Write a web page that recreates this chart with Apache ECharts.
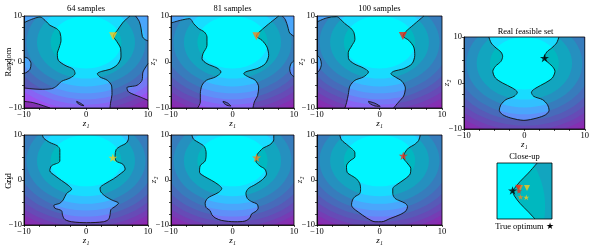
<!DOCTYPE html>
<html><head><meta charset="utf-8">
<script src="https://cdn.jsdelivr.net/npm/echarts@6/dist/echarts.min.js"></script>
<style>html,body{margin:0;padding:0;background:#fff}#c{width:592px;height:246px}</style>
</head><body><div id="c"></div>
<script>
// ---------------- data ----------------
const tickLabels = [-10, 0, 10];
const panelTitles = ['64 samples', '81 samples', '100 samples'];
const rowLabels = ['Random', 'Grid'];
const realTitle = 'Real feasible set';
const closeTitle = 'Close-up';
const legendText = 'True optimum \u2605';

// objective filled-contour bands (circles in data space), outermost first
const bandCenter = [0, 4.3];
const bandRadii = [17.7, 16.7, 15.7, 14.7, 13.6, 12.4, 11.1, 9.6, 7.9, 5.7];
const bandColors = ['#c232ec', '#b040ee', '#9c52f0', '#8864f3', '#7478f5', '#5f8ff8', '#4aa6fb', '#32c0ff', '#18dcff', '#00f6ff'];

// Random 64
const rand64A = [[-10,8.55],[-8.76,9.28],[-7.42,9.78],[-6.61,9.06],[-5.81,7.97],[-4.73,7.25],[-4.19,6.38],[-4.03,4.71],[-4.30,3.26],[-4.62,1.81],[-4.46,0.36],[-3.39,-0.72],[-2.04,-1.59],[-1.77,-2.54],[-2.58,-3.48],[-3.93,-4.20],[-4.73,-5.22],[-5.54,-5.80],[-7.42,-5.94],[-9.03,-5.80],[-10,-5.65]];
const rand64B = [[-10,1.09],[-9.30,0.72],[-8.87,-0.36],[-9.03,-1.59],[-9.68,-2.32],[-10,-2.39]];
const rand64C = [[-10,-8.55],[-8.49,-8.84],[-6.9,-9.5],[-5.8,-10]];
const rand64D = [[-1.51,-8.55],[-0.86,-8.98],[-0.32,-9.49],[-0.75,-9.42],[-1.40,-8.91],[-1.51,-8.55]];
const rand64E = [[7.10,10],[6.02,8.70],[5.05,6.88],[4.41,5.65],[4.95,4.49],[5.59,2.90],[5.64,1.09],[5.05,-0.58],[3.87,-1.59],[2.53,-2.03],[1.83,-2.54],[2.26,-3.26],[3.44,-3.98],[4.14,-5.22],[4.19,-7.10],[3.98,-8.70],[3.87,-10]];
const rand64F = [[8.0,10],[8.6,8.8],[8.9,7.2],[9.1,5.5],[9.5,4.9],[10,4.6]];
const rand64G = [[10,-0.36],[9.19,-2.17],[9.03,-3.99],[8.22,-5.07],[6.60,-5.58],[6.87,-6.52],[8.76,-7.61],[10,-8.33]];
const rand64Regions = [['A','-B'], ['C',[-10,-10]], ['D'], ['E',[10,-10],'-G','-F']];

// Random 81
const rand81A = [[-10,8.48],[-8.48,9.06],[-6.96,9.42],[-6.31,8.33],[-5.50,7.25],[-4.58,6.52],[-4.15,5.43],[-4.15,3.62],[-4.80,1.81],[-4.96,0.72],[-4.15,-0.36],[-2.52,-1.30],[-1.87,-2.17],[-2.79,-3.26],[-4.25,-3.98],[-4.96,-5.07],[-5.23,-6.88],[-5.23,-8.70],[-5.66,-10]];
const rand81D = [[-1.54,-8.55],[-0.79,-8.91],[-0.24,-9.57],[-0.89,-9.42],[-1.44,-8.91],[-1.54,-8.55]];
const rand81E = [[7.51,10],[5.61,7.97],[4.25,6.38],[3.88,5.65],[4.80,4.71],[5.61,3.26],[5.88,1.45],[5.34,-0.36],[3.98,-1.45],[2.36,-2.03],[1.82,-2.54],[2.63,-3.26],[3.71,-3.98],[4.25,-5.43],[4.09,-7.25],[3.55,-8.70],[3.33,-10]];
const rand81F = [[8.1,10],[8.6,9.2],[9.0,7.6],[9.3,6.3],[10,5.6]];
const rand81G = [[10,0.3],[9.5,-0.4],[9.3,-1.5],[9.5,-2.6],[10,-3.2]];
const rand81Regions = [['A',[-10,-10]], ['D'], ['E',[10,-10],'-G','-F']];

// Random 100
const rand100A = [[-10,8.70],[-8.49,9.57],[-6.88,9.86],[-6.34,9.42],[-5.54,8.33],[-4.62,7.39],[-4.09,6.38],[-3.93,4.93],[-4.46,3.48],[-5.00,2.03],[-4.95,0.72],[-4.09,-0.36],[-2.58,-1.30],[-1.77,-2.17],[-2.58,-3.26],[-3.93,-3.98],[-4.73,-5.22],[-5.00,-7.10],[-5.27,-8.84],[-5.54,-10]];
const rand100B = [[-10,1.5],[-9.5,0.8],[-9.3,-0.5],[-9.6,-1.8],[-10,-2.3]];
const rand100D = [[-1.77,-8.55],[-0.70,-8.98],[0.11,-9.64],[-0.70,-9.57],[-1.61,-8.98],[-1.77,-8.55]];
const rand100E = [[7.10,10],[5.48,8.12],[4.14,6.52],[3.76,5.65],[4.68,4.71],[5.48,3.26],[5.64,1.45],[5.21,-0.36],[3.87,-1.45],[2.26,-2.03],[1.83,-2.54],[2.53,-3.26],[3.60,-4.20],[4.14,-5.65],[3.87,-7.39],[3.06,-8.70],[2.26,-10]];
const rand100Regions = [['A',[-10,-10],'-B'], ['D'], ['E',[10,-10],[10,10]]];

// Grid boundaries (top-left -> around bottom -> top-right)
const grid64Curve = [[-7.03,10],[-6.81,9.28],[-5.84,8.34],[-4.65,7.62],[-4.22,6.75],[-4.22,4.22],[-5.57,3.14],[-5.84,2.06],[-5.03,0.98],[-3.95,-0.11],[-2.86,-1.19],[-2.32,-2.06],[-3.14,-3.00],[-3.68,-4.44],[-4.22,-5.16],[-5.19,-5.67],[-5.03,-6.25],[-3.95,-6.82],[-3.78,-7.83],[-3.41,-8.77],[-2.32,-9.28],[0.11,-9.49],[2.81,-9.28],[3.62,-8.77],[3.89,-7.69],[4.00,-6.61],[4.70,-5.88],[5.24,-5.16],[4.16,-4.44],[3.24,-3.72],[2.38,-2.64],[2.27,-1.77],[3.08,-0.83],[4.43,0.25],[5.51,1.34],[6.32,2.42],[5.95,3.50],[4.86,4.22],[4.70,5.45],[4.86,6.75],[5.51,7.47],[6.49,8.20],[6.86,9.28],[6.86,10]];
const grid81Curve = [[-6.60,10],[-6.33,9.06],[-5.36,8.20],[-4.61,7.47],[-4.29,6.03],[-4.45,4.22],[-5.26,3.14],[-5.36,1.70],[-4.61,0.83],[-3.37,-0.11],[-2.29,-1.05],[-1.75,-1.91],[-2.29,-2.78],[-3.37,-3.50],[-4.07,-4.08],[-4.45,-5.16],[-4.29,-6.10],[-3.64,-6.82],[-3.37,-7.69],[-2.83,-8.41],[-1.75,-8.99],[0.40,-9.28],[2.02,-9.13],[2.83,-8.41],[3.10,-7.54],[3.80,-6.97],[4.18,-6.25],[4.02,-5.38],[3.10,-4.80],[2.40,-4.08],[2.18,-3.00],[2.56,-1.91],[3.64,-1.05],[4.88,0.11],[5.53,1.34],[5.26,2.42],[4.45,3.14],[3.80,4.22],[4.02,5.67],[4.45,6.39],[4.99,7.11],[6.07,7.83],[6.71,8.92],[6.71,10]];
const grid100Curve = [[-6.35,10],[-6.09,8.92],[-5.01,7.62],[-3.94,6.03],[-3.94,5.16],[-4.75,4.22],[-5.28,3.14],[-5.17,1.70],[-4.48,0.98],[-3.67,0.25],[-3.14,-0.83],[-3.03,-1.91],[-3.14,-3.00],[-3.94,-3.72],[-4.32,-4.44],[-4.48,-5.52],[-4.21,-6.25],[-3.40,-7.11],[-2.06,-8.41],[-0.72,-9.28],[0.35,-9.28],[1.69,-8.56],[3.30,-7.69],[4.26,-6.82],[4.48,-5.88],[4.10,-5.16],[3.30,-4.66],[2.49,-4.08],[2.12,-3.00],[2.12,-1.91],[2.76,-1.05],[4.10,0.25],[4.91,1.34],[5.01,2.56],[4.37,3.86],[3.83,4.95],[4.10,6.17],[4.64,7.11],[5.55,7.83],[6.25,8.77],[6.52,10]];
const realCurve = [[-5.88,10],[-5.50,8.70],[-4.69,7.61],[-3.88,6.74],[-3.60,5.80],[-3.88,4.71],[-4.80,3.62],[-5.23,2.54],[-4.80,1.09],[-3.60,0.0],[-1.98,-1.09],[-1.17,-2.03],[-1.71,-2.90],[-3.06,-3.62],[-3.88,-4.71],[-4.15,-5.94],[-3.60,-6.88],[-2.25,-7.61],[-0.08,-8.12],[2.09,-7.61],[3.55,-6.88],[4.09,-5.94],[3.82,-4.71],[3.01,-3.62],[1.55,-2.90],[1.17,-2.03],[1.92,-1.09],[3.44,0.0],[4.63,1.09],[5.07,2.54],[4.63,3.62],[3.71,4.71],[3.33,5.50],[3.71,6.74],[4.53,7.61],[5.34,8.70],[5.72,10]];
const outsideRegions = [['C',[10,10],[10,-10],[-10,-10],[-10,10]]];

// Close-up
const closeRangeX = [2.2, 6.2];
const closeRangeY = [3.4, 7.4];
const closeUpCurve = [[5.12,7.4],[4.48,6.68],[3.88,6.08],[3.47,5.59],[3.35,5.38],[3.47,5.04],[3.88,4.51],[4.48,3.91],[4.96,3.4]];
const closeRegions = [['C',[6.2,3.4],[6.2,7.4]]];

// optima found
const randOptima = [[4.38,5.62],[3.88,5.62],[3.74,5.64]];
const gridOptima = [[4.33,4.95],[3.91,4.97],[3.80,5.40]];
const trueOptimum = [3.33,5.43];
const markerColors = ['#f8c81c', '#f5861f', '#ee2a16'];

// ---------------- chart ----------------
const FONT = "'Liberation Serif','DejaVu Serif',serif";
const STAR = 'path://M0,-10L2.25,-3.09L9.51,-3.09L3.63,1.18L5.88,8.09L0,3.82L-5.88,8.09L-3.63,1.18L-9.51,-3.09L-2.25,-3.09Z';

const gridBoxes = [
  {left:24, top:16, width:124, height:92},
  {left:171, top:16, width:123, height:92},
  {left:317, top:16, width:125, height:92},
  {left:24, top:135, width:124, height:92},
  {left:171, top:135, width:123, height:92},
  {left:317, top:135, width:125, height:92},
  {left:464, top:37, width:123, height:92},
  {left:497, top:163, width:55, height:56}
];
const yNameGaps = [9, 14, 12, 10.5, 13, 13, 13.3];

const panels = [
  {curves:{A:rand64A,B:rand64B,C:rand64C,D:rand64D,E:rand64E,F:rand64F,G:rand64G}, regions:rand64Regions, marks:[{p:randOptima[0], c:markerColors[0], s:'tri'}]},
  {curves:{A:rand81A,D:rand81D,E:rand81E,F:rand81F,G:rand81G}, regions:rand81Regions, marks:[{p:randOptima[1], c:markerColors[1], s:'tri'}]},
  {curves:{A:rand100A,B:rand100B,D:rand100D,E:rand100E}, regions:rand100Regions, marks:[{p:randOptima[2], c:markerColors[2], s:'tri'}]},
  {curves:{C:grid64Curve}, regions:outsideRegions, marks:[{p:gridOptima[0], c:markerColors[0], s:'star'}]},
  {curves:{C:grid81Curve}, regions:outsideRegions, marks:[{p:gridOptima[1], c:markerColors[1], s:'star'}]},
  {curves:{C:grid100Curve}, regions:outsideRegions, marks:[{p:gridOptima[2], c:markerColors[2], s:'star'}]},
  {curves:{C:realCurve}, regions:outsideRegions, marks:[{p:trueOptimum, c:'#000', s:'star'}]},
  {curves:{C:closeUpCurve}, regions:closeRegions, marks:[]}
];
[0,1,2].forEach(i => {
  panels[7].marks.push({p:randOptima[i], c:markerColors[i], s:'tri', small:true});
  panels[7].marks.push({p:gridOptima[i], c:markerColors[i], s:'star', small:true});
});
panels[7].marks.push({p:trueOptimum, c:'#000', s:'star', big:true});

function fmtTick(v){
  for (const t of tickLabels) if (Math.abs(v - t) < 1e-9) return String(t).replace('-', '\u2212');
  return '';
}
function regionPoints(spec, curves){
  const pts = [];
  spec.forEach(s => {
    if (typeof s === 'string') {
      const rev = s[0] === '-';
      const c = curves[rev ? s.slice(1) : s];
      (rev ? c.slice().reverse() : c).forEach(p => pts.push(p));
    } else pts.push(s);
  });
  return pts;
}

const grid = [], xAxis = [], yAxis = [], series = [];
panels.forEach((pn, i) => {
  grid.push(Object.assign({containLabel:false}, gridBoxes[i]));
  const isClose = i === 7;
  const axCommon = {
    type:'value', gridIndex:i, z:10,
    min: isClose ? closeRangeX[0] : -10, max: isClose ? closeRangeX[1] : 10,
    interval: isClose ? 1 : 2.5,
    show: !isClose,
    splitLine:{show:false},
    nameMoveOverlap:false,
    axisLine:{show:true, onZero:false, lineStyle:{color:'#000', width:0.8}},
    axisTick:{show:true, length:2, lineStyle:{color:'#000', width:0.7}},
    axisLabel:{formatter:fmtTick, fontFamily:FONT, fontSize:8.5, color:'#000', margin:2, hideOverlap:false},
    nameTextStyle:{fontFamily:FONT, fontSize:9, fontStyle:'italic', color:'#000'}
  };
  xAxis.push(Object.assign({}, axCommon, {name:'z\u2081', nameLocation:'middle', nameGap:11}));
  yAxis.push(Object.assign({}, axCommon, {
    min: isClose ? closeRangeY[0] : -10, max: isClose ? closeRangeY[1] : 10,
    name:'z\u2082', nameLocation:'middle', nameGap: yNameGaps[i] || 8, nameRotate:90
  }));
  series.push({
    type:'custom', xAxisIndex:i, yAxisIndex:i, clip:true, silent:true, z:1,
    data: bandRadii.map((r, k) => [r, k]),
    renderItem: (params, api) => {
      const r = api.value(0);
      const c = api.coord(bandCenter);
      const sx = api.size([r, 0])[0];
      const sy = api.size([0, r])[1];
      return {type:'ellipse', shape:{cx:c[0], cy:c[1], rx:sx, ry:sy}, style:{fill:bandColors[api.value(1)]}};
    }
  });
  series.push({
    type:'custom', xAxisIndex:i, yAxisIndex:i, clip:true, silent:true, z:2,
    data: pn.regions.map((_, k) => [k, 0]),
    renderItem: (params, api) => {
      const pts = regionPoints(pn.regions[api.value(0)], pn.curves).map(p => api.coord(p));
      return {type:'polygon', shape:{points:pts}, style:{fill:'rgba(0,0,0,0.25)'}};
    }
  });
  Object.keys(pn.curves).forEach(k => {
    series.push({
      type:'line', xAxisIndex:i, yAxisIndex:i, data:pn.curves[k], showSymbol:false, symbol:'none',
      smooth:0.3, silent:true, z:3, lineStyle:{color:'#111', width:0.9}
    });
  });
  series.push({
    type:'custom', xAxisIndex:i, yAxisIndex:i, silent:true, z:4, data:[[0,0]],
    renderItem: (params) => {
      const cs = params.coordSys;
      return {type:'rect', shape:{x:cs.x, y:cs.y, width:cs.width, height:cs.height},
        style:{fill:'none', stroke: '#000', lineWidth:0.8}};
    }
  });
  pn.marks.forEach(m => {
    const size = m.big ? 9 : (m.small ? 6 : (m.s === 'star' ? 9 : 8));
    series.push({
      type:'scatter', xAxisIndex:i, yAxisIndex:i, z:5, silent:true,
      data:[m.p],
      symbol: m.s === 'star' ? STAR : 'triangle', symbolRotate: m.s === 'star' ? 0 : 180,
      symbolKeepAspect:true, symbolSize:size,
      itemStyle:{color:m.c}
    });
  });
});

const textEl = (t, x, y, extra) => Object.assign({type:'text', x:x, y:y, silent:true,
  style:{text:t, fill:'#000', font:'8.5px ' + FONT, align:'center', verticalAlign:'middle'}}, extra || {});
const graphic = [
  textEl(panelTitles[0], 86, 9),
  textEl(panelTitles[1], 232.5, 9),
  textEl(panelTitles[2], 379.5, 9),
  textEl(realTitle, 525.5, 31.5),
  textEl(closeTitle, 524.5, 156.5),
  textEl(legendText, 524.5, 227),
  textEl(rowLabels[0], 8.5, 62, {rotation:Math.PI/2}),
  textEl(rowLabels[1], 8.5, 181, {rotation:Math.PI/2})
];

const chart = echarts.init(document.getElementById('c'), null, {renderer:'canvas', width:592, height:246});
chart.setOption({animation:false, backgroundColor:'#fff', grid, xAxis, yAxis, series, graphic});
</script></body></html>
